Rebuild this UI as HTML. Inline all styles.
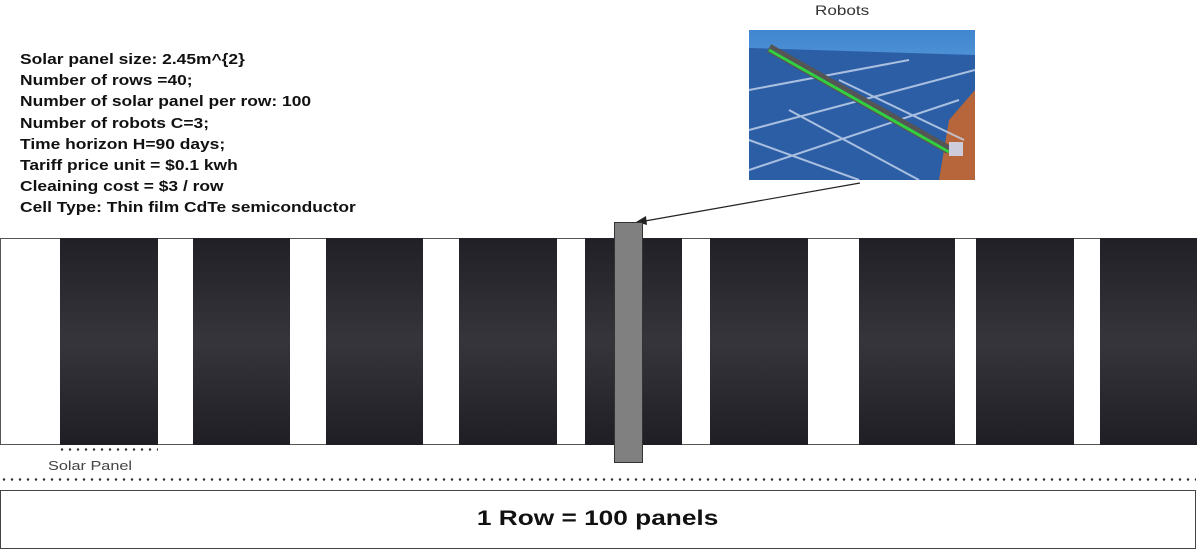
<!DOCTYPE html>
<html><head><meta charset="utf-8"><style>
body{margin:0;width:1200px;height:552px;background:#fff;position:relative;overflow:hidden;font-family:"Liberation Sans",Arial,sans-serif}
.t{position:absolute;left:20px;top:50px;font-weight:bold;font-size:14.5px;line-height:21.2px;color:#111;transform:scaleX(1.2);transform-origin:0 0}
.p{position:absolute;top:238px;height:207px;background:linear-gradient(180deg,#202026 0%,#35353b 50%,#1e1e24 100%)}
.dots{position:absolute;height:3px;background:radial-gradient(circle,#333 1.1px,transparent 1.4px);background-size:8px 3px}
</style></head><body>
<div class="t">Solar panel size: 2.45m^{2}<br>Number of rows =40;<br>Number of solar panel per row: 100<br>Number of robots C=3;<br>Time horizon H=90 days;<br>Tariff price unit = $0.1 kwh<br>Cleaining cost = $3 / row<br>Cell Type: Thin film CdTe semiconductor</div>
<div style="position:absolute;left:815px;top:2px;font-size:14px;color:#333;transform:scaleX(1.22);transform-origin:0 0">Robots</div>
<svg style="position:absolute;left:749px;top:30px" width="226" height="150" viewBox="0 0 226 150">
<defs><linearGradient id="sk" x1="0" y1="0" x2="0" y2="1"><stop offset="0" stop-color="#3f86d0"/><stop offset="1" stop-color="#8ec0ea"/></linearGradient></defs>
<rect width="226" height="150" fill="url(#sk)"/>
<polygon points="0,18 226,25 226,80 200,150 0,150" fill="#2c5ea6"/>
<polygon points="200,90 226,60 226,150 190,150" fill="#b7653a"/>
<g stroke="#c9d8ee" stroke-width="2" opacity=".8">
<line x1="0" y1="100" x2="226" y2="40"/><line x1="0" y1="140" x2="210" y2="70"/><line x1="0" y1="60" x2="160" y2="30"/>
<line x1="0" y1="110" x2="110" y2="150"/><line x1="40" y1="80" x2="170" y2="150"/><line x1="90" y1="50" x2="215" y2="110"/>
</g>
<line x1="20" y1="18" x2="200" y2="120" stroke="#555" stroke-width="9"/>
<line x1="20" y1="20" x2="200" y2="122" stroke="#30d040" stroke-width="3"/>
<rect x="200" y="112" width="14" height="14" fill="#ccd" />
</svg>
<svg style="position:absolute;left:0;top:0" width="1200" height="552">
<line x1="860" y1="183" x2="645" y2="221" stroke="#222" stroke-width="1.2"/>
<polygon points="636,222 646,216 647,225" fill="#222"/>
</svg>
<div style="position:absolute;left:0;top:238px;width:1197px;height:207px;border:1px solid #555;box-sizing:border-box"></div>
<div class="p" style="left:60px;width:98px"></div>
<div class="p" style="left:193px;width:97px"></div>
<div class="p" style="left:326px;width:97px"></div>
<div class="p" style="left:459px;width:98px"></div>
<div class="p" style="left:585px;width:97px"></div>
<div class="p" style="left:710px;width:98px"></div>
<div class="p" style="left:859px;width:96px"></div>
<div class="p" style="left:976px;width:98px"></div>
<div class="p" style="left:1100px;width:97px"></div>
<div style="position:absolute;left:614px;top:222px;width:29px;height:241px;background:#808080;border:1px solid #333;box-sizing:border-box"></div>
<div class="dots" style="left:58px;top:448px;width:100px"></div>
<div style="position:absolute;left:48px;top:458px;font-size:13px;color:#444;transform:scaleX(1.25);transform-origin:0 0">Solar Panel</div>
<div class="dots" style="left:0;top:478px;width:1196px"></div>
<div style="position:absolute;left:0;top:490px;width:1196px;height:59px;border:1px solid #444;box-sizing:border-box"></div>
<div style="position:absolute;left:0;top:490px;width:1196px;height:59px;text-align:center;line-height:57px;font-weight:bold;font-size:21px;color:#111"><span style="display:inline-block;transform:scaleX(1.25)">1 Row = 100 panels</span></div>
</body></html>
